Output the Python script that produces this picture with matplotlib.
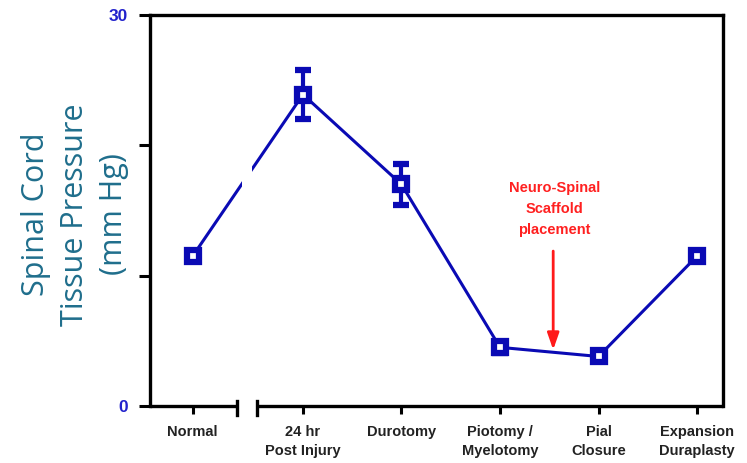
import matplotlib
matplotlib.use('Agg')
from matplotlib import pyplot as plt
import numpy as np

# data
labels = ['Normal', '24 hr\nPost Injury', 'Durotomy', 'Piotomy /\nMyelotomy',
          'Pial\nClosure', 'Expansion\nDuraplasty']
x_pos = [-0.12, 1, 2, 3, 4, 5]
pressure = [11.5, 23.9, 17.0, 4.5, 3.8, 11.5]
err = [0.2, 1.9, 1.6, 0.4, 0.3, 0.2]

blue = '#0a0ab4'
plt.rcParams['font.family'] = ['Liberation Sans', 'DejaVu Sans']

fig = plt.figure(figsize=(7.47, 4.63), dpi=100)
ax = fig.add_axes([0.2008, 0.1231, 0.7671, 0.8445])

ax.errorbar(x_pos, pressure, yerr=err, color=blue, lw=2.2, marker='s', ms=8,
            mfc='white', mec=blue, mew=4.5, capsize=6, capthick=3, elinewidth=3,
            zorder=2)

# gap in the line at the axis break
ax.axvspan(0.38, 0.48, color='white', zorder=2.1, lw=0)

ax.set_xlim(-0.553, 5.264)
ax.set_ylim(0, 30)

for s in ['left', 'top', 'right']:
    ax.spines[s].set_linewidth(2.4)
    ax.spines[s].set_color('black')
ax.spines['bottom'].set_visible(False)

# broken bottom axis
tr = ax.get_xaxis_transform()
brk_l, brk_r = 0.33, 0.533
ax.plot([-0.553, brk_l], [0, 0], color='black', lw=2.4, transform=tr, clip_on=False,
        solid_capstyle='butt')
ax.plot([brk_r, 5.264], [0, 0], color='black', lw=2.4, transform=tr, clip_on=False,
        solid_capstyle='butt')
for bx in [brk_l, brk_r]:
    ax.plot([bx, bx], [-0.022, 0.012], color='black', lw=2.4, transform=tr,
            clip_on=False)

ax.set_xticks(x_pos)
ax.set_xticklabels(labels, fontsize=10.5, fontweight='bold', color='#222222',
                   va='top', linespacing=1.45)
ax.tick_params(axis='x', length=6, width=2.2, pad=8)

ax.set_yticks([0, 10, 20, 30])
ax.set_yticklabels(['0', '', '', '30'], fontsize=12.5, fontweight='bold', color='#2222cc')
ax.tick_params(axis='y', length=8, width=2.2, pad=8)

ax.set_ylabel('Spinal Cord\nTissue Pressure\n(mm Hg)', fontsize=22, color='#1f6e8c',
              family='Open Sans', linespacing=1.4)
ax.yaxis.set_label_coords(-0.036, 0.49)

ax.text(3.555, 15.1, 'Neuro-Spinal\nScaffold\nplacement', color='#ff2020',
        fontsize=10.5, fontweight='bold', ha='center', va='center', linespacing=1.65)
ax.annotate('', xy=(3.54, 4.1), xytext=(3.54, 12.1),
            arrowprops=dict(arrowstyle='-|>,head_width=0.35,head_length=1.0',
                            color='#ff1a1a', lw=2))

fig.savefig('out.png', dpi=100)
